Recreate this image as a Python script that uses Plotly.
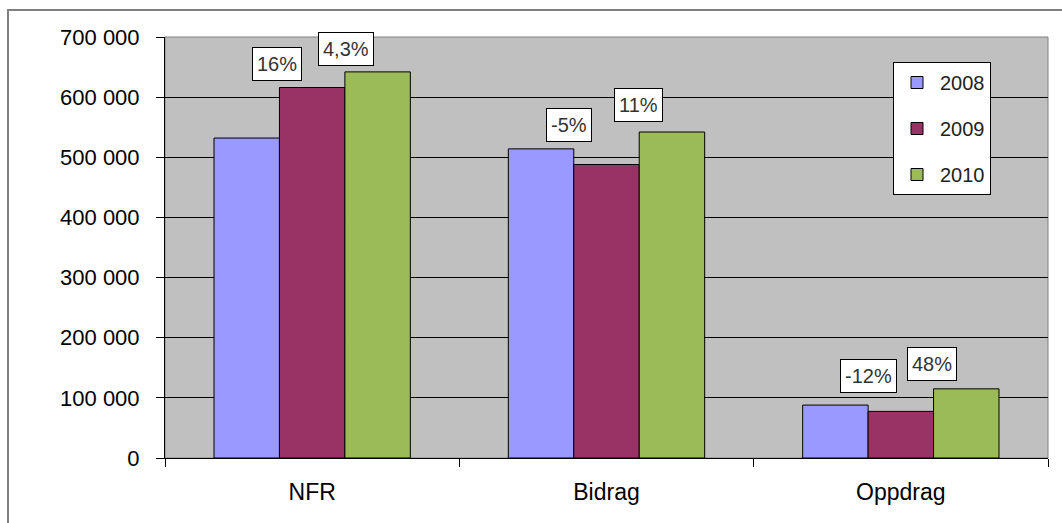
import plotly.graph_objects as go

categories = ["NFR", "Bidrag", "Oppdrag"]
years = ["2008", "2009", "2010"]
values_2008 = [532000, 514000, 88000]
values_2009 = [616000, 488000, 77500]
values_2010 = [642000, 542000, 115000]
growth_2009 = ["16%", "-5%", "-12%"]
growth_2010 = ["4,3%", "11%", "48%"]

colors = ["#9999FF", "#993366", "#9BBB59"]
FONT = "Arial, Liberation Sans, sans-serif"

fig = go.Figure()
for yr, vals, col in zip(years, [values_2008, values_2009, values_2010], colors):
    fig.add_trace(go.Bar(
        x=categories, y=vals, name=yr, legendgroup=yr,
        marker=dict(color=col, line=dict(color="black", width=1)),
    ))

# label offsets (pixels) relative to the bar top / category centre
shift_2009 = [(-35.5, 24), (-38, 40), (-32.5, 35)]
shift_2010 = [(33.5, 23), (31.5, 27.5), (31.5, 24.5)]
annotations = []
for i, cat in enumerate(categories):
    for txt, val, (dx, dy) in [(growth_2009[i], values_2009[i], shift_2009[i]),
                               (growth_2010[i], values_2010[i], shift_2010[i])]:
        annotations.append(dict(
            x=cat, y=val, xref="x", yref="y", text=txt, showarrow=False,
            xshift=dx, yshift=dy, xanchor="center", yanchor="middle",
            bgcolor="white", bordercolor="black", borderwidth=1, borderpad=4,
            height=24,
            font=dict(family=FONT, size=20, color="#333333"),
        ))

L, R, T, B = 165, 14, 37, 65
W, H = 1062, 523
pw, ph = W - L - R, H - T - B

fig.update_layout(
    width=W, height=H,
    margin=dict(l=L, r=R, t=T, b=B),
    paper_bgcolor="white", plot_bgcolor="#C0C0C0",
    separators=", ",
    barmode="group", bargap=0.333, bargroupgap=0,
    font=dict(family=FONT, color="black"),
    annotations=annotations,
    legend=dict(
        x=(893 - L) / pw, y=1 - (62 - T) / ph, xanchor="left", yanchor="top",
        bgcolor="white", bordercolor="black", borderwidth=1,
        font=dict(family=FONT, size=20, color="#222222"),
        tracegroupgap=17, traceorder="grouped",
        itemwidth=36,
    ),
    xaxis=dict(
        tickson="boundaries", ticks="outside", ticklen=8, tickcolor="black",
        showline=True, linecolor="black", linewidth=1,
        tickfont=dict(family=FONT, size=23, color="black"),
        ticklabelstandoff=13,
    ),
    yaxis=dict(
        range=[0, 700000], dtick=100000, tickformat=",d",
        showgrid=True, gridcolor="black", gridwidth=1,
        ticks="outside", ticklen=8, tickcolor="black",
        showline=True, linecolor="black", linewidth=1,
        tickfont=dict(family=FONT, size=22, color="black"),
        ticklabelstandoff=12, zeroline=False,
    ),
    shapes=[
        dict(type="rect", xref="paper", yref="paper", x0=0, x1=1, y0=0, y1=1,
             line=dict(color="#808080", width=1), layer="below"),
        dict(type="rect", xref="paper", yref="paper",
             x0=(8 - L) / pw, x1=1.2, y0=-0.5, y1=1 + (T - 10) / ph,
             line=dict(color="#7f7f7f", width=2)),
    ],
)

fig.write_html("out.html", config={"displayModeBar": False},
               post_script="document.body.style.margin='0';")
